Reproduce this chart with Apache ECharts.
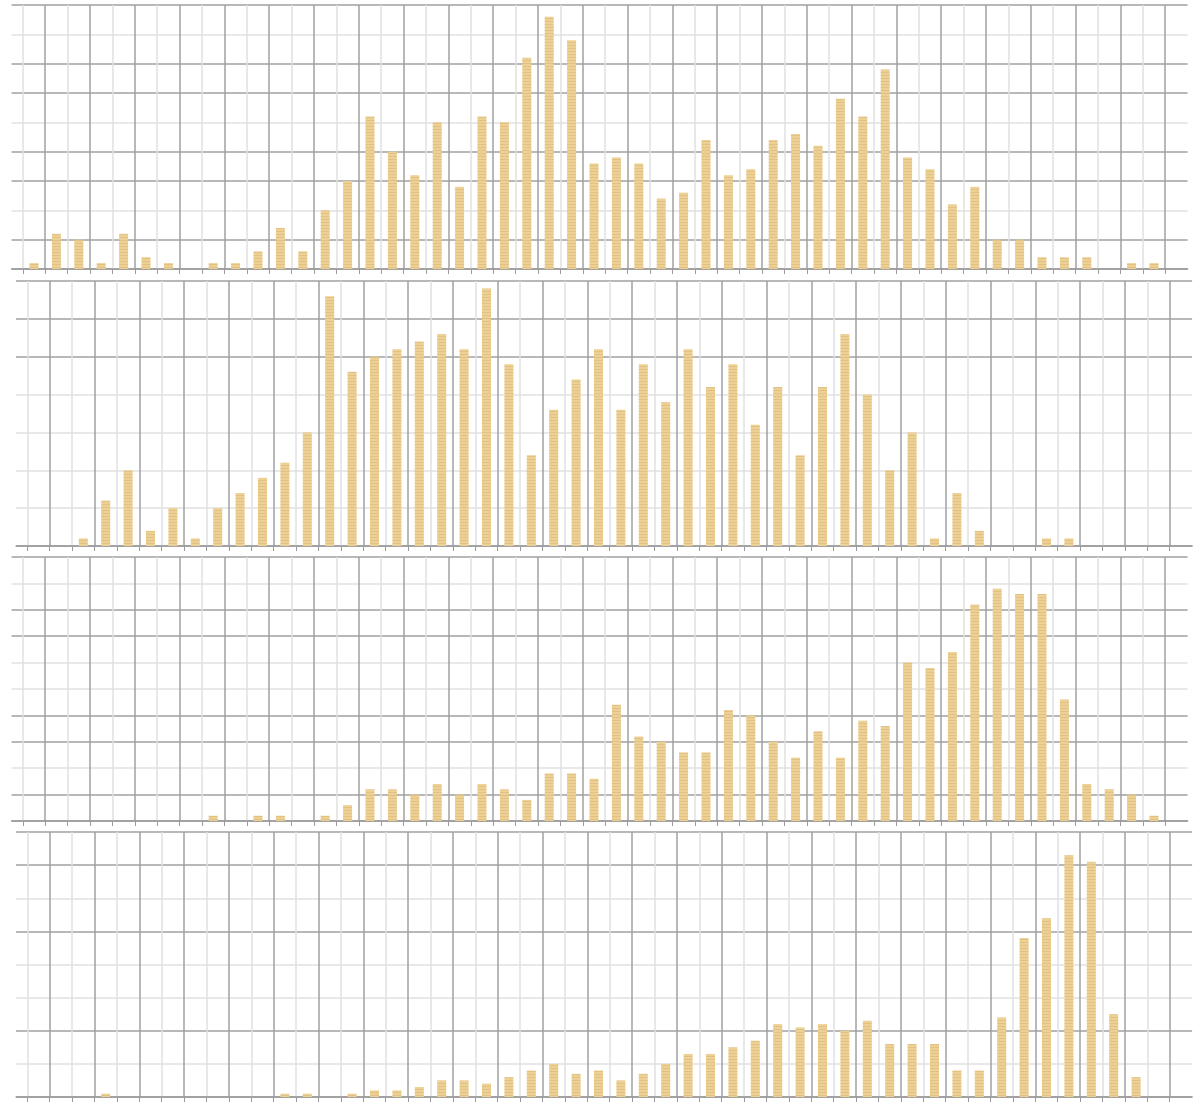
<!DOCTYPE html>
<html>
<head>
<meta charset="utf-8">
<script src="https://cdn.jsdelivr.net/npm/echarts@6/dist/echarts.min.js"></script>
<style>
    html, body { margin: 0; padding: 0; background: #fff; }
    #main { width: 1198px; height: 1104px; }
</style>
</head>
<body>
<div id="main"></div>
<script>
    // counts per bin, bins 0..50, one array per panel (top to bottom)
    var counts1 = [1,6,5,1,6,2,1,0,1,1,3,7,3,10,15,26,20,16,25,14,26,25,36,43,39,18,19,18,12,13,22,16,17,22,23,21,29,26,34,19,17,11,14,5,5,2,2,2,0,1,1];
    var counts2 = [0,0,1,6,10,2,5,1,5,7,9,11,15,33,23,25,26,27,28,26,34,24,12,18,22,26,18,24,19,26,21,24,16,21,12,21,28,20,10,15,1,7,2,0,0,1,1,0,0,0,0];
    var counts3 = [0,0,0,0,0,0,0,0,1,0,1,1,0,1,3,6,6,5,7,5,7,6,4,9,9,8,22,16,15,13,13,21,20,15,12,17,12,19,18,30,29,32,41,44,43,43,23,7,6,5,1];
    var counts4 = [0,0,0,1,0,0,0,0,0,0,0,1,1,0,1,2,2,3,5,5,4,6,8,10,7,8,5,7,10,13,13,15,17,22,21,22,20,23,16,16,16,8,8,24,48,54,73,71,25,6,0];

    // y axis tops and steps
    var yMax = [45, 35, 50, 80];
    var yStep = [5, 5, 5, 10];

    // bin boundaries (where the vertical rules sit)
    var boundaries = [];
    for (var b = 0; b <= 51; b++) boundaries.push(b);

    var D = '#a0a0a0', L = '#e0e0e0';
    var layout = [
        {left: 11.6, top: 5,   height: 264, hc: [D,D,L,D,D,L,D,D,L,D]},
        {left: 16.1, top: 281, height: 265, hc: [D,L,L,L,L,D,D,D]},
        {left: 11.6, top: 557, height: 264, hc: [D,D,L,D,D,L,L,D,D,L,D]},
        {left: 16.1, top: 832, height: 265, hc: [D,L,D,L,L,D,L,D,D]}
    ];
    var allCounts = [counts1, counts2, counts3, counts4];

    var chart = echarts.init(document.getElementById('main'));
    var option = { animation: false, backgroundColor: '#fff', grid: [], xAxis: [], yAxis: [], series: [] };

    allCounts.forEach(function (counts, i) {
        var p = layout[i];
        option.grid.push({ left: p.left, top: p.top, width: 1176, height: p.height });
        option.xAxis.push({
            gridIndex: i, type: 'value', min: -0.5, max: 52,
            axisLabel: { show: false },
            axisLine: { lineStyle: { color: '#9a9a9a', width: 1.5 } },
            axisTick: { customValues: boundaries, length: 5, lineStyle: { color: '#9a9a9a' } },
            splitLine: { show: true, lineStyle: { color: [L, D], width: 1.5 } }
        });
        option.yAxis.push({
            gridIndex: i, type: 'value', min: 0, max: yMax[i], interval: yStep[i],
            axisLabel: { show: false }, axisLine: { show: false }, axisTick: { show: false },
            splitLine: { lineStyle: { color: p.hc, width: 1.5 } }
        });
        option.series.push({
            type: 'bar', xAxisIndex: i, yAxisIndex: i, barWidth: 9,
            itemStyle: {
                color: '#EDD093',
                decal: { symbol: 'rect', symbolSize: 1, dashArrayX: [1, 0], dashArrayY: [1, 2], color: 'rgba(175,135,65,0.18)' }
            },
            data: counts.map(function (v, k) { return [k + 0.5, v]; })
        });
    });

    chart.setOption(option);
</script>
</body>
</html>
